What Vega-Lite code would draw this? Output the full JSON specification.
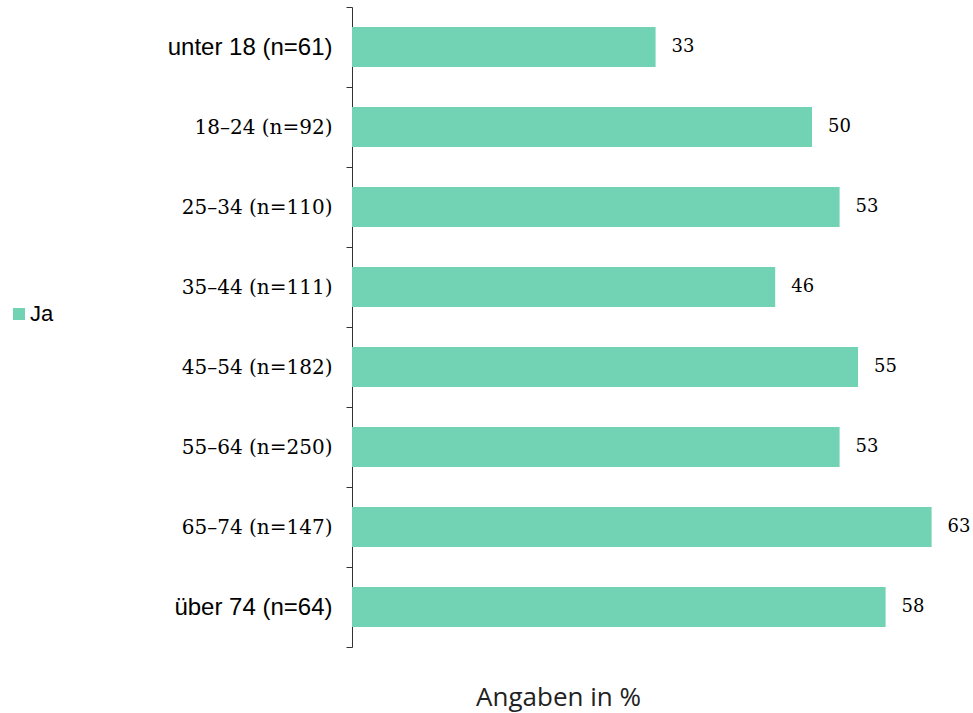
{
  "$schema": "https://vega.github.io/schema/vega-lite/v6.json",
  "autosize": {"type": "none"},
  "padding": {"left": 352, "top": 7, "right": 23, "bottom": 66},
  "width": 598,
  "height": 640,
  "background": "white",
  "config": {"view": {"stroke": null}},
  "data": {
    "values": [
      {"gruppe": "unter 18 (n=61)", "wert": 33, "antwort": "Ja"},
      {"gruppe": "18–24 (n=92)", "wert": 50, "antwort": "Ja"},
      {"gruppe": "25–34 (n=110)", "wert": 53, "antwort": "Ja"},
      {"gruppe": "35–44 (n=111)", "wert": 46, "antwort": "Ja"},
      {"gruppe": "45–54 (n=182)", "wert": 55, "antwort": "Ja"},
      {"gruppe": "55–64 (n=250)", "wert": 53, "antwort": "Ja"},
      {"gruppe": "65–74 (n=147)", "wert": 63, "antwort": "Ja"},
      {"gruppe": "über 74 (n=64)", "wert": 58, "antwort": "Ja"}
    ]
  },
  "encoding": {
    "y": {
      "field": "gruppe",
      "type": "nominal",
      "sort": null,
      "scale": {"paddingInner": 0, "paddingOuter": 0},
      "axis": {
        "title": null,
        "tickBand": "extent",
        "domainColor": "#333333",
        "tickColor": "#333333",
        "tickSize": 6,
        "labelPadding": 14,
        "labelFontSize": {"expr": "test(/–/, datum.value) ? 20 : 24"},
        "labelColor": "#000000",
        "labelFont": {"expr": "test(/–/, datum.value) ? 'DejaVu Serif' : 'Liberation Sans'"},
        "labelLimit": 300
      }
    },
    "x": {
      "field": "wert",
      "type": "quantitative",
      "scale": {"domain": [0, 65], "nice": false},
      "axis": {
        "title": "Angaben in %",
        "domain": false,
        "ticks": false,
        "labels": false,
        "grid": false,
        "titleFont": "Open Sans",
        "titleFontWeight": "normal",
        "titleFontSize": 26,
        "titleColor": "#222222",
        "titleX": 206,
        "titleY": 58,
        "titleBaseline": "alphabetic"
      }
    }
  },
  "layer": [
    {
      "mark": {"type": "bar", "height": {"band": 0.5}},
      "encoding": {
        "color": {
          "field": "antwort",
          "type": "nominal",
          "scale": {"range": ["#72d2b4"]},
          "legend": {
            "title": null,
            "orient": "none",
            "legendX": -344,
            "legendY": 296,
            "symbolType": "square",
            "symbolSize": 144,
            "symbolStrokeWidth": 0,
            "labelFont": "Liberation Sans",
            "labelFontSize": 22,
            "labelColor": "#000000",
            "labelOffset": 0
          }
        }
      }
    },
    {
      "mark": {"type": "text", "align": "left", "dx": 16, "font": "DejaVu Serif", "fontSize": 18, "color": "#000000"},
      "encoding": {"text": {"field": "wert", "type": "quantitative"}}
    }
  ]
}
